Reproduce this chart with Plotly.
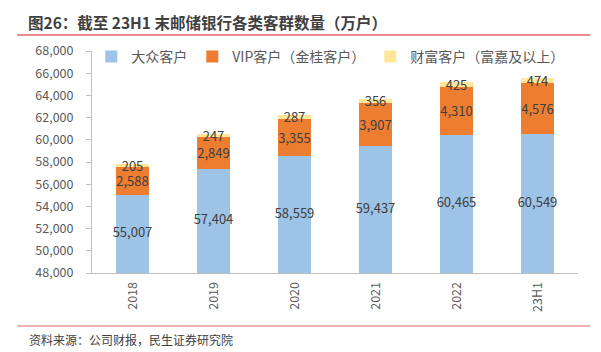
import plotly.graph_objects as go

categories = ["2018", "2019", "2020", "2021", "2022", "23H1"]
mass_clients = [55007, 57404, 58559, 59437, 60465, 60549]
vip_clients = [2588, 2849, 3355, 3907, 4310, 4576]
wealth_clients = [205, 247, 287, 356, 425, 474]
series_names = ["大众客户", "VIP客户（金桂客户）", "财富客户（富嘉及以上）"]
y_min, y_max, y_step = 48000, 68000, 2000
y_ticks = list(range(y_min, y_max + 1, y_step))

FONT = "Noto Sans CJK SC"
L, R, T, B = 91.7, 23.3, 51, 79
W, H = 601, 352
pw, ph = W - L - R, H - T - B

def px(x):
    return (x - L) / pw

def py(y):
    return (H - B - y) / ph

colors = ["#9DC3E6", "#ED7D31", "#FFE699"]
fig = go.Figure()
for i, (name, vals, col) in enumerate(zip(series_names, [mass_clients, vip_clients, wealth_clients], colors)):
    fig.add_trace(go.Bar(
        x=categories, y=vals, name=name, marker_color=col, marker_line_width=0,
        text=None if i == 0 else [f"{v:,}" for v in vals],
        textposition="none" if i == 0 else "inside",
        insidetextanchor="middle", constraintext="none", textangle=0,
        textfont=dict(size=13, color="#404040", family=FONT),
        cliponaxis=False,
    ))

# labels for the first series, centred on the visible part of each bar
fig.add_trace(go.Scatter(
    x=categories, y=[(y_min + v) / 2 for v in mass_clients], mode="text",
    text=[f"{v:,}" for v in mass_clients], showlegend=False, hoverinfo="skip",
    textfont=dict(size=13, color="#404040", family=FONT),
))

fig.update_layout(
    barmode="stack", bargap=0.59,
    width=W, height=H,
    margin=dict(l=L, r=R, t=T, b=B),
    paper_bgcolor="white", plot_bgcolor="white",
    font=dict(family=FONT, color="#595959", size=12),
    uniformtext=dict(minsize=13, mode="show"),
    legend=dict(orientation="h", x=px(91), y=py(41), xanchor="left", yanchor="top",
                font=dict(size=14, color="#595959"), itemwidth=30,
                bgcolor="rgba(0,0,0,0)", traceorder="normal"),
    showlegend=True,
)
fig.update_yaxes(range=[y_min, y_max], tickvals=y_ticks, tickformat=",",
                 showgrid=False, showline=True, linecolor="#bfbfbf", linewidth=1,
                 ticks="outside", ticklen=5, tickcolor="#bfbfbf", ticklabelstandoff=10,
                 tickfont=dict(size=12.5, color="#595959"), zeroline=False)
fig.update_xaxes(showline=True, linecolor="#bfbfbf", linewidth=1, tickangle=-90,
                 ticklabelstandoff=3,
                 tickfont=dict(size=12.5, color="#595959"), showgrid=False)

fig.add_shape(type="line", xref="paper", yref="paper", x0=px(17), x1=px(590),
              y0=py(35), y1=py(35), line=dict(color="#E06666", width=1.5))
fig.add_shape(type="line", xref="paper", yref="paper", x0=px(17), x1=px(590),
              y0=py(326), y1=py(326), line=dict(color="#E06666", width=1.2))
fig.add_annotation(text="<b>图26：截至 23H1 末邮储银行各类客群数量（万户）</b>",
                   xref="paper", yref="paper", x=px(26), y=py(22), xanchor="left",
                   yanchor="middle", showarrow=False,
                   font=dict(size=15.5, color="#404040", family=FONT))
fig.add_annotation(text="资料来源：公司财报，民生证券研究院",
                   xref="paper", yref="paper", x=px(27), y=py(339), xanchor="left",
                   yanchor="middle", showarrow=False,
                   font=dict(size=12, color="#404040", family=FONT))

fig.write_html("out.html")
